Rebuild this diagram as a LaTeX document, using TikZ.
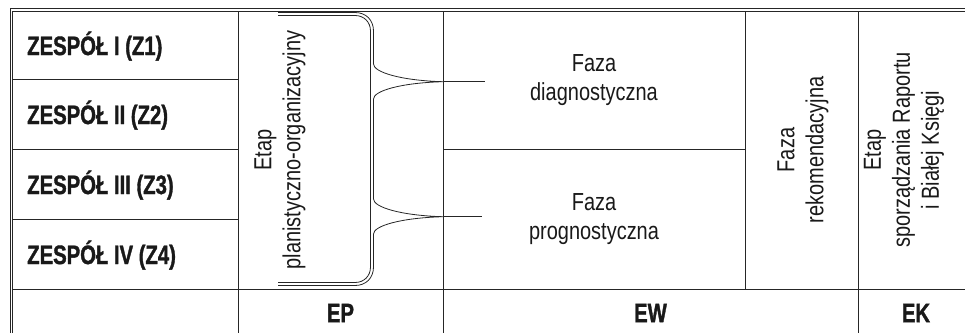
\documentclass[tikz,border=0pt]{standalone}
\usepackage{fontspec}
\setmainfont{Liberation Sans}[FakeStretch=0.81]
\newfontfamily\headfont{Liberation Sans}[FakeStretch=0.76,BoldFeatures={FakeBold=1.3}]
\usetikzlibrary{positioning}

\begin{document}
\begin{tikzpicture}[
    x=0.75pt,
    y=-0.75pt,
    grid line/.style={
        draw=black!85,
        line width=0.75pt
    },
    frame line/.style={
        draw=black!85,
        line width=0.75pt
    },
    team/.style={
        anchor=west,
        inner sep=0pt,
        text=black!90,
        font=\headfont\bfseries\fontsize{20}{22}\selectfont
    },
    stage/.style={
        inner sep=0pt,
        text=black!90,
        font=\headfont\bfseries\fontsize{20}{22}\selectfont
    },
    phase/.style={
        align=center,
        inner sep=0pt,
        text=black!90,
        font=\fontsize{18.5}{21.75}\selectfont
    },
    rotated phase/.style={
        phase,
        rotate=90
    },
    brace line/.style={
        draw=black!85,
        line width=0.6pt
    },
    brace arm/.style={
        draw=black!85,
        line width=1pt
    },
    ]
    \useasboundingbox (0,0) rectangle (965,333);

    % frame and grid of the table
    \draw[frame line] (10,333) -- (10,8.3) -- (965,8.3);
    \draw[frame line] (12.7,333) -- (12.7,11) -- (965,11);
    \draw[grid line] (238,11) -- (238,333);
    \draw[grid line] (443,11) -- (443,333);
    \draw[grid line] (745,11) -- (745,289.5);
    \draw[grid line] (858,11) -- (858,333);
    \draw[grid line] (12.7,79.5) -- (238,79.5);
    \draw[grid line] (12.7,149.5) -- (238,149.5);
    \draw[grid line] (12.7,219.5) -- (238,219.5);
    \draw[grid line] (443,149.5) -- (745,149.5);
    \draw[grid line] (12.7,289.5) -- (965,289.5);

    % teams
    \node[team] (z1) at (27,46) {ZESPÓŁ I (Z1)};
    \node[team] (z2) at (27,115) {ZESPÓŁ II (Z2)};
    \node[team] (z3) at (27,185) {ZESPÓŁ III (Z3)};
    \node[team] (z4) at (27,255) {ZESPÓŁ IV (Z4)};

    % phases
    \node[rotated phase] (plan) at (280,150) {Etap\\planistyczno-organizacyjny};
    \node[phase] (diag) at (594,80) {Faza\\diagnostyczna};
    \node[phase] (progn) at (594,219.5) {Faza\\prognostyczna};
    \node[rotated phase] (rekom) at (803,150) {Faza\\rekomendacyjna};
    \node[rotated phase] (raport) at (904,150) {Etap\\sporządzania Raportu\\i Białej Księgi};

    % stages
    \node[stage] (ep) at (340.5,313) {EP};
    \node[stage] (ew) at (650.5,313) {EW};
    \node[stage] (ek) at (916,313) {EK};

    % brace
    \coordinate (tip diag) at (443,81.7);
    \coordinate (arm diag) at (485,81.7);
    \coordinate (tip progn) at (443,216.7);
    \coordinate (arm progn) at (482,216.7);
    \draw[brace line] (278,15.5) -- (355,15.5)
        .. controls (364,15.5) and (370.5,22) .. (370.5,31)
        -- (370.5,267)
        .. controls (370.5,276) and (364,282.5) .. (355,282.5)
        -- (278,282.5);
    \draw[brace line] (278,12.5) -- (355,12.5)
        .. controls (366,12.5) and (373.5,20) .. (373.5,31)
        -- (373.5,64)
        .. controls (373.5,72) and (400,80.5) .. (tip diag)
        .. controls (400,82.9) and (373.5,91) .. (373.5,99)
        -- (373.5,199)
        .. controls (373.5,207) and (400,215.5) .. (tip progn)
        .. controls (400,217.9) and (373.5,226) .. (373.5,234)
        -- (373.5,267)
        .. controls (373.5,278) and (366,285.5) .. (355,285.5)
        -- (278,285.5);
    \draw[brace arm] (tip diag) -- (arm diag);
    \draw[brace arm] (tip progn) -- (arm progn);
\end{tikzpicture}
\end{document}
